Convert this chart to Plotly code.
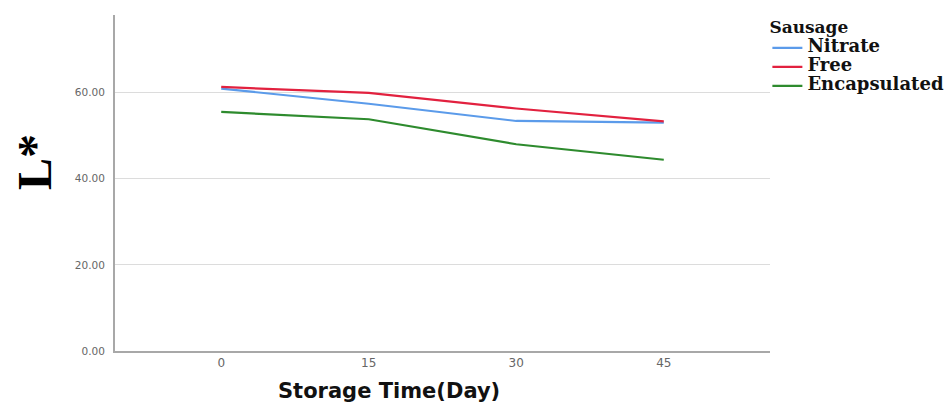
import plotly.graph_objects as go

days = ["0", "15", "30", "45"]
nitrate = [60.9, 57.4, 53.4, 53.0]
free = [61.3, 59.9, 56.3, 53.3]
encapsulated = [55.5, 53.8, 48.0, 44.4]
y_ticks = [0, 20, 40, 60]
y_tick_labels = ["0.00", "20.00", "40.00", "60.00"]

series = [
    ("Nitrate", nitrate, "#5B9BEA"),
    ("Free", free, "#E2213F"),
    ("Encapsulated", encapsulated, "#2E8B2E"),
]

fig = go.Figure()
for name, vals, color in series:
    fig.add_trace(go.Scatter(
        x=days, y=vals, mode="lines",
        name='<span style="font-size:18px"><b>' + name + "</b></span>",
        line=dict(color=color, width=2.2)))

# page is offset ~8px by the browser body margin; compensate in margins
fig.update_layout(
    width=952, height=403,
    margin=dict(l=107, r=190, t=7, b=60, autoexpand=False),
    plot_bgcolor="white", paper_bgcolor="white",
    showlegend=True,
    legend=dict(
        title=dict(text='<span style="font-size:17px"><b>Sausage</b></span>',
                   font=dict(family="DejaVu Serif", size=19, color="#111")),
        font=dict(family="DejaVu Serif", size=11, color="#111"),
        x=0.996, xanchor="left", y=1.019, yanchor="top",
        bgcolor="rgba(0,0,0,0)", tracegroupgap=0,
    ),
    xaxis=dict(
        type="category", range=[-0.72, 3.72],
        showgrid=False, showline=True, linecolor="#a8a8a8", linewidth=2,
        ticks="", tickfont=dict(family="DejaVu Sans", size=12, color="#666"),
        zeroline=False,
    ),
    yaxis=dict(
        range=[0, 78], tickvals=y_ticks, ticktext=y_tick_labels,
        showgrid=True, gridcolor="#dcdcdc", gridwidth=1,
        showline=True, linecolor="#a8a8a8", linewidth=2,
        ticks="", ticklabelstandoff=6,
        tickfont=dict(family="DejaVu Sans", size=10.5, color="#666"),
        zeroline=False,
    ),
)

fig.add_annotation(text="<b>Storage Time(Day)</b>", xref="paper", yref="paper",
                   x=0.418, y=0, yshift=-40, xanchor="center", yanchor="middle",
                   showarrow=False,
                   font=dict(family="DejaVu Sans", size=21, color="#111"))
fig.add_annotation(text="<b>L*</b>", xref="paper", yref="paper",
                   x=0, xshift=-81, y=0.5625, xanchor="center", yanchor="middle",
                   textangle=-90, showarrow=False,
                   font=dict(family="Liberation Serif", size=48, color="#000"))

fig.write_html("out.html")
